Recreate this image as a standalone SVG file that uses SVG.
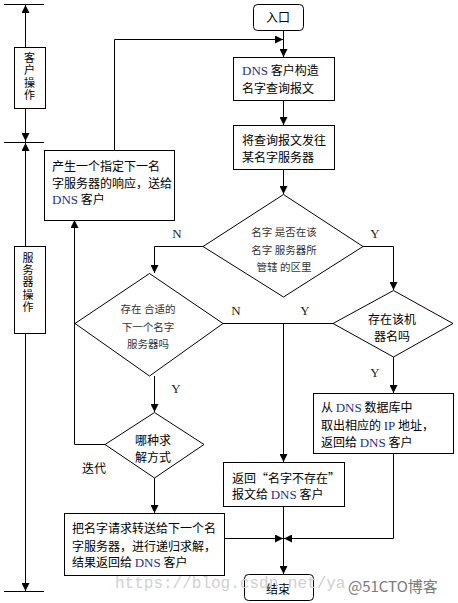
<svg xmlns="http://www.w3.org/2000/svg" width="458" height="603" viewBox="0 0 458 603">
<style>
.bx{fill:#fff;stroke:#000;stroke-width:1}
.ln{fill:none;stroke:#000;stroke-width:1}
.t{font-family:"Noto Sans CJK SC","Noto Sans",sans-serif;font-size:12px;fill:#000}
.tv{font-family:"Noto Sans CJK SC","Noto Sans",sans-serif;font-size:11px;fill:#000;writing-mode:vertical-rl;text-orientation:upright}
.td{font-family:"Noto Sans CJK SC","Noto Sans",sans-serif;font-size:10.5px;fill:#333}
.en{font-family:"Liberation Serif",serif;font-size:13px;fill:#1f2f86}
.yn{font-family:"Liberation Serif",serif;font-size:13px;fill:#222}
.wm{font-family:"Liberation Mono",monospace;font-size:16px;fill:#d0d0d0}
.wm2{font-family:"Noto Sans CJK SC",sans-serif;font-size:15px;fill:#7a7a7a;stroke:#fff;stroke-width:0.6;paint-order:stroke}
</style>
<defs>
<marker id="ah" viewBox="0 0 8 8" refX="8" refY="4" markerWidth="8" markerHeight="8" markerUnits="userSpaceOnUse" orient="auto">
<path d="M0,0 L8,4 L0,8 z" fill="#000"/>
</marker>
</defs>
<rect width="458" height="603" fill="#fff"/>

<g id="scale">
<path class="ln" d="M4,4.5 H44 M4,142.5 H44 M4,591.5 H44"/>
<path class="ln" d="M25.5,40 V5" marker-end="url(#ah)"/>
<path class="ln" d="M25.5,120 V141" marker-end="url(#ah)"/>
<path class="ln" d="M25.5,240 V143" marker-end="url(#ah)"/>
<path class="ln" d="M25.5,5 V591" marker-end="url(#ah)"/>
</g>

<g id="connectors">
<path class="ln" d="M283.5,30 V57" marker-end="url(#ah)"/>
<path class="ln" d="M114.5,150 V39.5 H283" marker-end="url(#ah)"/>
<path class="ln" d="M283.5,100 V125" marker-end="url(#ah)"/>
<path class="ln" d="M283.5,169 V194" marker-end="url(#ah)"/>
<path class="ln" d="M203,246.5 H154.5 V273" marker-end="url(#ah)"/>
<path class="ln" d="M363,246.5 H393.5 V290" marker-end="url(#ah)"/>
<path class="ln" d="M154.5,376 V412" marker-end="url(#ah)"/>
<path class="ln" d="M223,323.5 H333"/>
<path class="ln" d="M283.5,323.5 V462" marker-end="url(#ah)"/>
<path class="ln" d="M393.5,357 V393" marker-end="url(#ah)"/>
<path class="ln" d="M393.5,453 V538.5 H284" marker-end="url(#ah)"/>
<path class="ln" d="M224,538.5 H283" marker-end="url(#ah)"/>
<path class="ln" d="M283.5,506 V574" marker-end="url(#ah)"/>
<path class="ln" d="M154.5,478 V513" marker-end="url(#ah)"/>
<path class="ln" d="M105,444.5 H74.5 V220" marker-end="url(#ah)"/>
</g>

<g id="label-client">
<rect class="bx" x="14.5" y="47.5" width="31" height="61"/>
<text class="tv" x="29.5" y="52" letter-spacing="1.5">客户操作</text>
</g>

<g id="label-server">
<rect class="bx" x="14.5" y="246.5" width="31" height="87"/>
<text class="tv" x="28" y="252" letter-spacing="1.3">服务器操作</text>
</g>

<g id="entry">
<rect class="bx" x="253.5" y="4.5" width="50" height="26" rx="4"/>
<text class="t" x="278" y="22" text-anchor="middle">入口</text>
</g>

<g id="build-query">
<rect class="bx" x="233.5" y="57.5" width="101" height="43"/>
<text class="t" x="242" y="75"><tspan class="en">DNS</tspan> 客户构造</text>
<text class="t" x="242" y="93">名字查询报文</text>
</g>

<g id="send-query">
<rect class="bx" x="233.5" y="125.5" width="101" height="44"/>
<text class="t" x="242" y="145">将查询报文发往</text>
<text class="t" x="242" y="162">某名字服务器</text>
</g>

<g id="in-zone">
<polygon class="bx" points="283.5,194.5 363,246.5 283.5,297 203,246.5"/>
<text class="td" x="284" y="236" text-anchor="middle">名字 是否在该</text>
<text class="td" x="284" y="254" text-anchor="middle">名字 服务器所</text>
<text class="td" x="284" y="271" text-anchor="middle">管辖 的区里</text>
</g>

<g id="next-server">
<polygon class="bx" points="149.5,273.5 223,323.5 149.5,376 75,323.5"/>
<text class="td" x="148" y="313" text-anchor="middle">存在 合适的</text>
<text class="td" x="148" y="331" text-anchor="middle">下一个名字</text>
<text class="td" x="148" y="348" text-anchor="middle">服务器吗</text>
</g>

<g id="host-exists">
<polygon class="bx" points="393.5,290.5 453,323.5 393.5,357 333,323.5"/>
<text class="t" x="392" y="323.5" text-anchor="middle">存在该机</text>
<text class="t" x="392" y="340.5" text-anchor="middle">器名吗</text>
</g>

<g id="resolve-mode">
<polygon class="bx" points="154.5,412.5 204,444.5 154.5,478 105,444.5"/>
<text class="t" x="153" y="444.5" text-anchor="middle">哪种求</text>
<text class="t" x="153" y="461.5" text-anchor="middle">解方式</text>
</g>

<g id="referral">
<rect class="bx" x="44.5" y="150.5" width="130" height="70"/>
<text class="t" x="52" y="170.5">产生一个指定下一名</text>
<text class="t" x="52" y="187.5">字服务器的响应，送给</text>
<text class="t" x="52" y="203.5"><tspan class="en">DNS</tspan> 客户</text>
</g>

<g id="return-ip">
<rect class="bx" x="313.5" y="393.5" width="140" height="60"/>
<text class="t" x="321" y="411.5">从 <tspan class="en">DNS</tspan> 数据库中</text>
<text class="t" x="321" y="429.5">取出相应的 <tspan class="en">IP</tspan> 地址，</text>
<text class="t" x="321" y="446.5">返回给 <tspan class="en">DNS</tspan> 客户</text>
</g>

<g id="not-exist">
<rect class="bx" x="223.5" y="462.5" width="121" height="44"/>
<text class="t" x="232" y="482.5">返回“名字不存在”</text>
<text class="t" x="232" y="498.5">报文给 <tspan class="en">DNS</tspan> 客户</text>
</g>

<g id="recursive">
<rect class="bx" x="64.5" y="513.5" width="160" height="62"/>
<text class="t" x="72" y="532.5">把名字请求转送给下一个名</text>
<text class="t" x="72" y="550.5">字服务器，进行递归求解，</text>
<text class="t" x="72" y="566.5">结果返回给 <tspan class="en">DNS</tspan> 客户</text>
</g>

<g id="end">
<rect class="bx" x="244.5" y="574.5" width="69" height="26" rx="4"/>
<text class="t" x="278" y="594" text-anchor="middle">结束</text>
</g>

<g id="labels">
<text class="yn" x="177" y="238" text-anchor="middle">N</text>
<text class="yn" x="375" y="238" text-anchor="middle">Y</text>
<text class="yn" x="236" y="315" text-anchor="middle">N</text>
<text class="yn" x="305" y="315" text-anchor="middle">Y</text>
<text class="yn" x="176" y="393" text-anchor="middle">Y</text>
<text class="yn" x="375" y="377" text-anchor="middle">Y</text>
<text class="t" x="94" y="473" text-anchor="middle">迭代</text>
</g>

<g id="watermark">
<text class="wm" x="115" y="588">https://blog.csdn.net/ya</text>
<text class="wm2" x="348" y="592">@51CTO博客</text>
</g>
</svg>
